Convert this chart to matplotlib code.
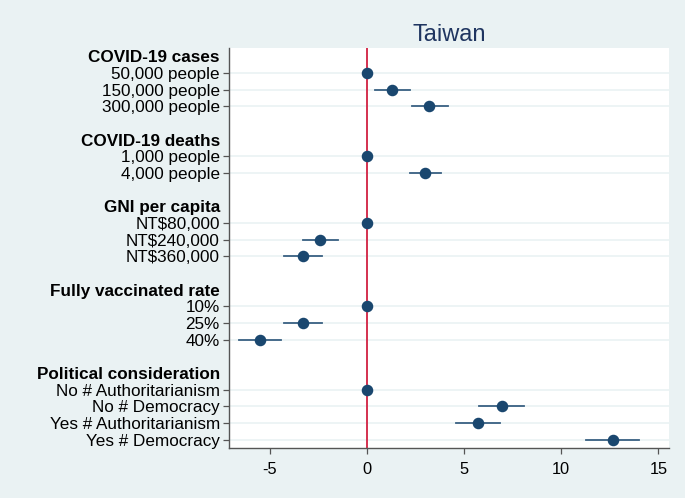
import matplotlib.pyplot as plt

plt.rcParams["font.family"] = ["Liberation Sans", "DejaVu Sans"]

headers = [
    "COVID-19 cases",
    "COVID-19 deaths",
    "GNI per capita",
    "Fully vaccinated rate",
    "Political consideration",
]
levels = [
    ["50,000 people", "150,000 people", "300,000 people"],
    ["1,000 people", "4,000 people"],
    ["NT$80,000", "NT$240,000", "NT$360,000"],
    ["10%", "25%", "40%"],
    ["No # Authoritarianism", "No # Democracy", "Yes # Authoritarianism", "Yes # Democracy"],
]
coef = [
    [0, 1.3, 3.2],
    [0, 3.0],
    [0, -2.39, -3.28],
    [0, -3.28, -5.48],
    [0, 6.94, 5.74, 12.66],
]
lower = [
    [0, 0.42, 2.3],
    [0, 2.2],
    [0, -3.3, -4.28],
    [0, -4.26, -6.55],
    [0, 5.76, 4.59, 11.27],
]
upper = [
    [0, 2.2, 4.2],
    [0, 3.8],
    [0, -1.46, -2.28],
    [0, -2.28, -4.43],
    [0, 8.11, 6.87, 14.0],
]

bg = "#eaf2f3"
navy = "#1a476f"

fig = plt.figure(figsize=(6.85, 4.98), dpi=100, facecolor=bg)
ax = fig.add_axes([0.334, 0.1004, 0.643, 0.8032])
ax.set_facecolor("white")

labels, positions, is_header = [], [], []
row = 0
for g, head in enumerate(headers):
    labels.append(head)
    positions.append(row)
    is_header.append(True)
    row += 1
    for i, lab in enumerate(levels[g]):
        c, lo, hi = coef[g][i], lower[g][i], upper[g][i]
        if hi > lo:
            ax.plot([lo, hi], [row, row], color=navy, lw=1.3, alpha=0.85, zorder=3)
        ax.plot(c, row, "o", color=navy, ms=7.3, zorder=4)
        labels.append(lab)
        positions.append(row)
        is_header.append(False)
        row += 1
    row += 1
row -= 1

ax.axvline(0, color="#d4304f", lw=1.4, zorder=2)

ax.set_ylim(row - 0.5, -0.5)
ax.set_xlim(-7.1, 15.56)
ax.set_xticks([-5, 0, 5, 10, 15])
ax.set_xticklabels(["-5", "0", "5", "10", "15"])
ax.set_yticks(positions)
ax.set_yticklabels(labels)
ax.tick_params(axis="both", length=4.5, color="#555555", width=0.9)
ax.tick_params(axis="x", pad=5.5, labelsize=11.8)
ax.tick_params(axis="y", pad=2, labelsize=12.3)
ax.grid(axis="y", color=bg, lw=1.2, zorder=1)

for tick, head in zip(ax.yaxis.get_major_ticks(), is_header):
    if head:
        tick.tick1line.set_visible(False)
        tick.gridline.set_visible(False)
        tick.label1.set_fontweight("bold")

for side in ["top", "right"]:
    ax.spines[side].set_visible(False)
for side in ["left", "bottom"]:
    ax.spines[side].set_color("#555555")
    ax.spines[side].set_linewidth(1.0)

ax.set_title("Taiwan", fontsize=17, color="#1f3560", pad=5)

fig.savefig("out.png", dpi=100, facecolor=bg)
